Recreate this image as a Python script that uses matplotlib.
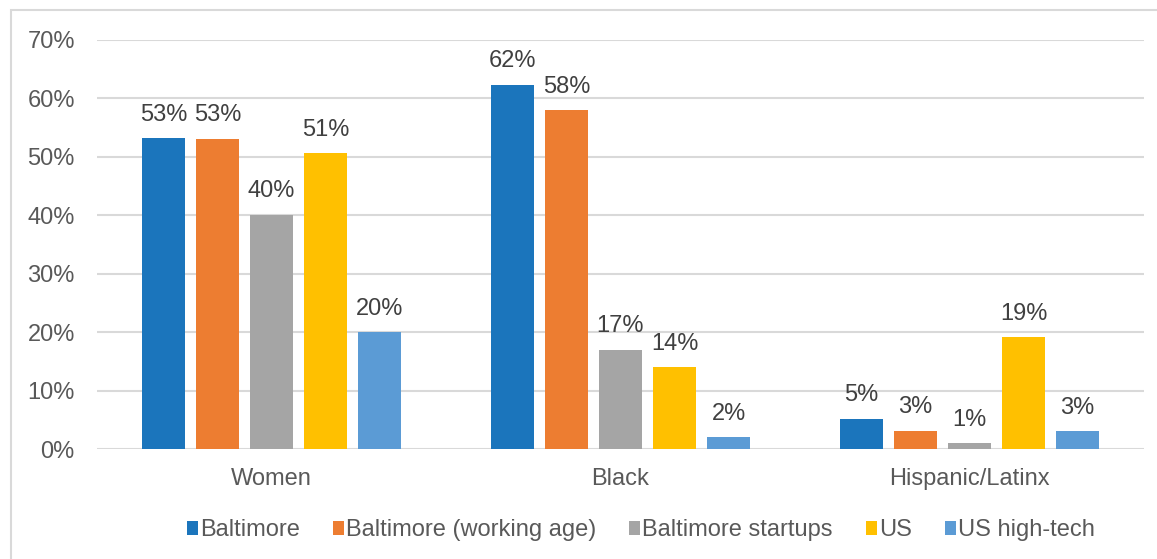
import matplotlib
matplotlib.use("Agg")
import matplotlib.pyplot as plt
import numpy as np
from matplotlib.patches import Rectangle

categories = ["Women", "Black", "Hispanic/Latinx"]
series_names = ["Baltimore", "Baltimore (working age)", "Baltimore startups", "US", "US high-tech"]
baltimore = [53.2, 62.3, 5.2]
baltimore_working = [53.1, 58.0, 3.1]
baltimore_startups = [40.1, 17.0, 1.0]
us = [50.6, 14.0, 19.1]
us_hightech = [20.0, 2.0, 3.0]
labels = [
    ["53%", "62%", "5%"],
    ["53%", "58%", "3%"],
    ["40%", "17%", "1%"],
    ["51%", "14%", "19%"],
    ["20%", "2%", "3%"],
]
yticks = [0, 10, 20, 30, 40, 50, 60, 70]
ytick_labels = ["0%", "10%", "20%", "30%", "40%", "50%", "60%", "70%"]

colors = ["#1B75BC", "#ED7D31", "#A5A5A5", "#FFC000", "#5B9BD5"]
series = [baltimore, baltimore_working, baltimore_startups, us, us_hightech]

plt.rcParams['font.family'] = ['Liberation Sans', 'DejaVu Sans']
text_color = "#595959"
fs = 17

W, H = 1157, 559
fig = plt.figure(figsize=(W / 100, H / 100), dpi=100)
ax = fig.add_axes([97 / W, 1 - 449 / H, (1144 - 97) / W, (449 - 40) / H])

# outer chart border
fig.patches.append(Rectangle((11 / W, -0.1), 1.2, 1 - 10 / H + 0.1, transform=fig.transFigure,
                             fill=False, edgecolor="#D9D9D9", linewidth=1.5))

x = np.arange(len(categories))
width = 0.123
step = 0.155
for i, (vals, c, name) in enumerate(zip(series, colors, series_names)):
    pos = x + (i - 2) * step
    bars = ax.bar(pos, vals, width, color=c, label=name, zorder=3)
    for b, lab in zip(bars, labels[i]):
        ax.annotate(lab, (b.get_x() + b.get_width() / 2, b.get_height()),
                    xytext=(0, 9), textcoords="offset points", ha="center", va="bottom",
                    fontsize=fs, color="#404040")

ax.set_xlim(-0.5, 2.5)
ax.set_ylim(0, 70)
ax.set_yticks(yticks)
ax.set_yticklabels(ytick_labels)
ax.set_xticks(x)
ax.set_xticklabels(categories)
ax.tick_params(axis="y", length=0, pad=16, labelsize=fs, labelcolor=text_color)
ax.tick_params(axis="x", length=0, pad=14, labelsize=fs, labelcolor=text_color)
ax.yaxis.grid(True, color="#D9D9D9", linewidth=1.5, zorder=0)
ax.set_axisbelow(True)
for s in ax.spines.values():
    s.set_visible(False)

leg = fig.legend(loc="center", bbox_to_anchor=(641 / W, 1 - 530 / H), ncol=5, frameon=False,
                 fontsize=fs, handlelength=0.45, handleheight=0.55, handletextpad=0.1,
                 columnspacing=1.4, labelcolor=text_color)

fig.savefig("out.png", dpi=100)
